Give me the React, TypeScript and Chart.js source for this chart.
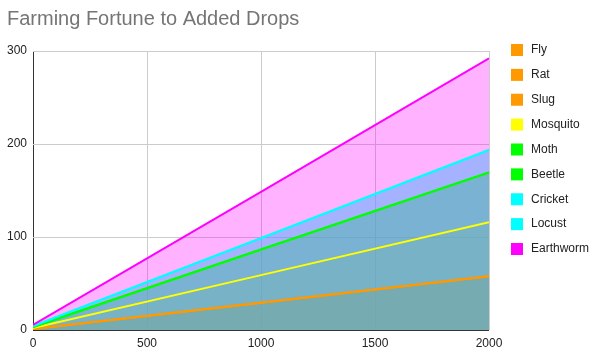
import React, { useEffect, useRef } from "react";
import { Chart, registerables } from "chart.js";

Chart.register(...registerables);

const chartTitle = "Farming Fortune to Added Drops";
const fortune = [0, 1000, 2000];
const seriesNames = ["Fly", "Rat", "Slug", "Mosquito", "Moth", "Beetle", "Cricket", "Locust", "Earthworm"];
const seriesColors = ["#ff9900", "#ff9900", "#ff9900", "#ffff00", "#00ff00", "#00ff00", "#00ffff", "#00ffff", "#ff00ff"];
const fly = [1.1, 29.4, 57.7];
const rat = [1.1, 29.4, 57.7];
const slug = [1.1, 29.4, 57.7];
const mosquito = [2.2, 59, 115.8];
const moth = [3.3, 86.5, 169.5];
const beetle = [3.3, 86.5, 169.5];
const cricket = [4.2, 98.8, 193.5];
const locust = [4.2, 98.8, 193.5];
const earthworm = [5.5, 148.5, 292];
const seriesValues = [fly, rat, slug, mosquito, moth, beetle, cricket, locust, earthworm];
const xTicks = [0, 500, 1000, 1500, 2000];
const yTicks = [0, 100, 200, 300];

const FONT = "'Liberation Sans', Arial, sans-serif";

function hexToRgba(hex: string, a: number) {
  const n = parseInt(hex.slice(1), 16);
  return `rgba(${(n >> 16) & 255}, ${(n >> 8) & 255}, ${n & 255}, ${a})`;
}

const legendPlugin = {
  id: "sideLegend",
  afterDraw(chart: any) {
    const ctx = chart.ctx;
    const area = chart.chartArea;
    ctx.save();
    ctx.font = `12px ${FONT}`;
    ctx.textBaseline = "middle";
    ctx.textAlign = "left";
    chart.data.datasets.forEach((ds: any, i: number) => {
      const cy = 50 + i * 24.875;
      const bx = area.right + 22;
      ctx.fillStyle = ds.borderColor;
      ctx.fillRect(bx, cy - 6, 12, 12);
      ctx.fillStyle = "#222222";
      ctx.fillText(ds.label, bx + 20, cy);
    });
    ctx.restore();
  },
};

export default function App() {
  const canvasRef = useRef<HTMLCanvasElement | null>(null);

  useEffect(() => {
    document.body.style.margin = "0";
    const canvas = canvasRef.current;
    if (!canvas) return;
    const datasets = seriesNames.map((name, i) => ({
      label: name,
      data: fortune.map((f, j) => ({ x: f, y: seriesValues[i][j] })),
      borderColor: seriesColors[i],
      backgroundColor: hexToRgba(seriesColors[i], 0.3),
      borderWidth: 2,
      pointRadius: 0,
      tension: 0,
      fill: "origin",
      order: seriesNames.length - i,
    }));
    const chart = new Chart(canvas, {
      type: "line",
      data: { datasets },
      plugins: [legendPlugin],
      options: {
        responsive: false,
        animation: false,
        devicePixelRatio: 1,
        layout: { padding: { left: 7, right: 109, top: 0, bottom: 9 } },
        plugins: {
          legend: { display: false },
          tooltip: { enabled: false },
          filler: { drawTime: "beforeDatasetsDraw" },
          title: {
            display: true,
            text: chartTitle,
            align: "start",
            color: "#757575",
            font: { family: FONT, size: 20, weight: "normal" },
            padding: { top: 7, bottom: 20 },
          },
        },
        scales: {
          x: {
            type: "linear",
            min: 0,
            max: 2000,
            afterBuildTicks: (scale: any) => {
              scale.ticks = xTicks.map((v) => ({ value: v }));
            },
            afterFit: (scale: any) => {
              scale.height = 20;
            },
            grid: {
              color: (c: any) => (c.tick && c.tick.value === 0 ? "#333333" : "#cccccc"),
              drawTicks: false,
              lineWidth: 1,
            },
            border: { display: false },
            ticks: {
              color: "#222222",
              font: { family: FONT, size: 12 },
              padding: 6,
              maxRotation: 0,
              callback: (v: any) => String(v),
            },
          },
          y: {
            type: "linear",
            min: 0,
            max: 300,
            afterBuildTicks: (scale: any) => {
              scale.ticks = yTicks.map((v) => ({ value: v }));
            },
            afterFit: (scale: any) => {
              scale.width = 26;
            },
            grid: {
              color: (c: any) => (c.tick && c.tick.value === 0 ? "#333333" : "#cccccc"),
              drawTicks: false,
              lineWidth: 1,
            },
            border: { display: false },
            ticks: {
              color: "#222222",
              font: { family: FONT, size: 12 },
              padding: 6,
              callback: (v: any) => String(v),
            },
          },
        },
      } as any,
    });
    return () => chart.destroy();
  }, []);

  return (
    <div style={{ width: 598, height: 359 }}>
      <canvas ref={canvasRef} width={598} height={359} />
    </div>
  );
}
